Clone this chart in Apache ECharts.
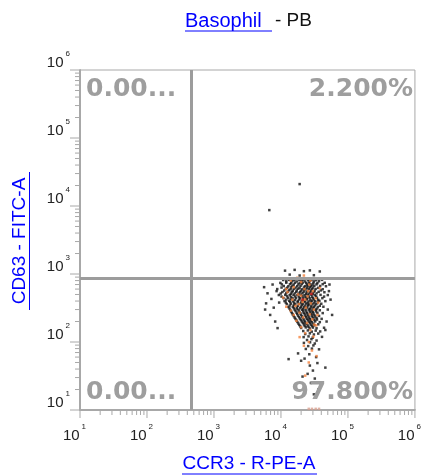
<!DOCTYPE html>
<html>
<head>
<meta charset="utf-8">
<script src="https://cdn.jsdelivr.net/npm/echarts@6/dist/echarts.min.js"></script>
<style>
  html, body { margin: 0; padding: 0; background: #fff; }
  #chart { width: 424px; height: 475px; }
</style>
</head>
<body>
<div id="chart"></div>
<script>
// decade ticks of both log axes
var decadeTicks = [10, 100, 1000, 10000, 100000, 1000000];
var minorTicks = [20, 30, 40, 50, 60, 70, 80, 90,
    200, 300, 400, 500, 600, 700, 800, 900,
    2000, 3000, 4000, 5000, 6000, 7000, 8000, 9000,
    20000, 30000, 40000, 50000, 60000, 70000, 80000, 90000,
    200000, 300000, 400000, 500000, 600000, 700000, 800000, 900000];

// quadrant gates (CCR3, CD63)
var gateX = 454;
var gateY = 870;
var quadrantLabels = ['0.00...', '2.200%', '0.00...', '97.800%'];

// events [CCR3, CD63]
var blackEvents = [
    // above the gate
    [11500, 1120], [16000, 1150], [22000, 1100], [27000, 1130], [38000, 1090], [19000, 950], [31000, 960], [13500, 980],
    // core
    [10800, 816], [13200, 820], [15800, 810], [18800, 816], [21500, 825], [25500, 812], [28500, 818], [33500, 810], [41000, 820],
    [9800, 740], [12000, 745], [14200, 735], [16200, 742], [19000, 738], [21200, 748], [23800, 736], [26200, 744], [30500, 740], [35000, 735], [45000, 742],
    [11000, 666], [12900, 660], [14800, 672], [17500, 664], [19600, 670], [22800, 662], [25000, 668], [28200, 660], [31500, 672], [38500, 666], [47000, 660],
    [8800, 600], [11800, 605], [13900, 596], [15600, 602], [18000, 608], [20800, 595], [23200, 600], [26000, 606], [29000, 598], [33000, 603], [42000, 597],
    [10500, 543], [12600, 548], [14500, 538], [16900, 545], [19200, 540], [21800, 550], [24200, 536], [27500, 544], [30800, 541], [36500, 547], [44500, 539],
    [9300, 491], [11600, 495], [13500, 487], [15400, 493], [17600, 489], [20000, 497], [22500, 486], [25200, 492], [28500, 495], [32000, 488], [39000, 493], [50000, 490],
    [10900, 442], [12800, 446], [14900, 438], [16800, 444], [19300, 440], [21600, 448], [24000, 436], [26800, 443], [30000, 439], [34500, 445], [41500, 441],
    [11300, 400], [13300, 404], [15200, 396], [17900, 402], [20500, 398], [23000, 406], [25800, 395], [29000, 401], [32500, 397], [37500, 403], [46000, 399],
    [12200, 362], [14100, 366], [16300, 358], [18600, 364], [21100, 360], [23700, 367], [26500, 357], [29500, 363], [33800, 359], [40000, 365],
    [12900, 327], [15000, 331], [17200, 323], [19800, 329], [22200, 325], [24900, 332], [27800, 322], [31000, 328], [35500, 324], [43000, 330],
    [13800, 296], [16000, 300], [18300, 292], [20800, 298], [23300, 294], [26000, 301], [29200, 291], [32800, 297], [38000, 293],
    [14600, 267], [17100, 270], [19500, 264], [21900, 269], [24600, 265], [27500, 271], [30500, 263], [35000, 268], [42000, 266],
    [15500, 241], [18000, 244], [20600, 238], [23200, 243], [25800, 239], [28800, 245], [32500, 237], [37000, 242],
    [16500, 218], [19200, 221], [21800, 215], [24400, 220], [27200, 216], [30500, 222], [34500, 214], [40500, 219],
    [17600, 197], [20500, 200], [23000, 194], [26000, 199], [29000, 195], [32500, 201], [38000, 196],
    [18800, 178], [22000, 181], [25000, 175], [28000, 180], [31500, 176], [36000, 182],
    [20000, 161], [23500, 164], [26800, 158], [30000, 163], [34000, 159], [44000, 162],
    [21500, 145], [25200, 148], [28800, 142], [33000, 147], [38500, 143],
    [23000, 131], [27000, 134], [31000, 129], [36000, 133],
    [21800, 118], [25800, 121], [29800, 116], [41000, 119],
    [24500, 107], [28500, 110], [34000, 105],
    [22000, 97], [27200, 99], [32000, 95],
    [25500, 87], [30500, 89],
    [23500, 79], [29000, 80], [37000, 78],
    // core, in-between rows
    [12000, 780], [14600, 785], [17200, 775], [20200, 782], [23000, 777], [27000, 786], [31000, 779], [37000, 783],
    [10300, 703], [13600, 708], [15500, 699], [18200, 705], [20500, 710], [24500, 700], [27300, 706], [29500, 698], [34000, 704], [42000, 709],
    [10200, 632], [12400, 628], [14200, 636], [16500, 630], [19000, 625], [22000, 634], [24500, 629], [27200, 637], [30200, 631], [36000, 626],
    [11200, 571], [13200, 575], [15000, 567], [17200, 573], [19800, 569], [22400, 577], [25000, 566], [28000, 572], [31800, 568], [39500, 574],
    [9900, 516], [12000, 520], [14000, 512], [16000, 518], [18400, 514], [21000, 521], [23600, 511], [26500, 517], [29800, 513], [34000, 519],
    [10200, 466], [12300, 470], [14200, 462], [16200, 468], [18600, 464], [20800, 471], [23400, 461], [26000, 467], [29200, 463], [33500, 469], [44000, 465],
    [12000, 420], [14000, 424], [16200, 416], [18800, 422], [21200, 418], [24500, 425], [27500, 415], [31000, 421], [36000, 417],
    [11800, 381], [13700, 385], [15800, 377], [17700, 383], [20000, 379], [22500, 386], [25000, 376], [28000, 382], [31500, 378], [35500, 384],
    [13500, 344], [15600, 348], [17800, 340], [20400, 346], [22800, 342], [25500, 349], [28500, 339], [32000, 345], [38000, 341],
    [13400, 311], [15500, 315], [17600, 307], [19400, 313], [21500, 309], [24000, 316], [27000, 306], [30000, 312], [34000, 308],
    [14200, 281], [16500, 285], [18900, 278], [21400, 283], [24000, 279], [26800, 286], [30000, 277], [33500, 282],
    [15000, 254], [17500, 258], [20000, 251], [22600, 256], [25200, 252], [28200, 259], [31500, 250],
    [16000, 229], [18600, 232], [21200, 226], [23800, 231], [26500, 227], [29600, 233], [34000, 225],
    [17100, 207], [19800, 210], [22500, 204], [25200, 209], [28000, 205], [31500, 211],
    [18200, 187], [21200, 190], [24000, 185], [27000, 189], [30500, 186],
    [19500, 169], [22600, 172], [25800, 167], [29000, 171],
    // lower tail
    [18000, 68], [26500, 66], [33500, 60], [13000, 56], [20000, 53], [22500, 57], [35000, 49], [27000, 45],
    [46000, 42], [30000, 38], [25000, 34], [32000, 29], [28000, 25], [21000, 31], [36000, 20], [31000, 17],
    // left and right stragglers
    [5600, 640], [6300, 520], [7200, 430], [6000, 370], [7800, 320], [8600, 560], [6900, 250], [8200, 200],
    [9400, 380], [5800, 300], [8900, 160], [7500, 700],
    [52000, 560], [55000, 420], [50000, 300], [58000, 250], [48000, 200], [53000, 700], [46000, 150]
];

var orangeEvents = [
    [14000, 800], [20000, 760], [26500, 700], [15500, 640], [22500, 600], [30000, 560], [12500, 540], [18000, 500],
    [25000, 470], [33000, 440], [14800, 420], [21000, 390], [28000, 370], [16500, 340], [23500, 320], [31000, 300],
    [14000, 290], [19000, 270], [27000, 255], [21500, 230], [29500, 215], [17000, 205], [24500, 190], [33500, 175],
    [20000, 165], [27500, 150], [23000, 135], [30500, 120], [19000, 118], [26000, 100], [22000, 88], [29000, 75],
    [34000, 62], [12000, 600], [10800, 450], [12000, 330], [38000, 620], [36000, 380], [17500, 880], [22000, 950],
    [27500, 800], [35000, 250], [20000, 480], [23000, 420], [18500, 360], [25500, 560], [15500, 250], [31500, 180],
    [26000, 50], [23000, 32]
];

var redEvents = [[28500, 510], [21000, 420]];

var floorEvents = [[26000, 10.4], [29000, 10.4], [33000, 10.4], [37000, 10.4]];

var outlierEvents = [[19000, 21000], [6700, 8700]];

var fontName = '"Liberation Sans", Arial, sans-serif';
var linkBlue = '#0000ff';
var axisGray = '#a8a8a8';

var chart = echarts.init(document.getElementById('chart'));

function powerLabel(v) {
    return '{b|10}{s|' + Math.round(Math.log10(v)) + '}';
}

var labelRich = {
    b: { fontSize: 15, fontFamily: fontName, color: '#222', padding: [5, 0, 0, 0] },
    s: { fontSize: 8, fontFamily: fontName, color: '#222', verticalAlign: 'top', padding: [0, 0, 0, 2] }
};

function mainAxis(pos, labelOpts) {
    return {
        type: 'log',
        logBase: 10,
        min: 10,
        max: 1000000,
        position: pos,
        axisLine: { show: true, onZero: false, lineStyle: { color: axisGray, width: 2 } },
        axisTick: { show: false },
        axisLabel: Object.assign({
            customValues: decadeTicks,
            formatter: powerLabel,
            rich: labelRich
        }, labelOpts),
        splitLine: { show: false }
    };
}

function scatter(name, data, color) {
    return {
        name: name,
        type: 'scatter',
        symbol: 'rect',
        symbolSize: 2.5,
        itemStyle: { color: color },
        data: data
    };
}

// tick marks outside the axes, placed through the axis scales
function tickSeries(values, isX, len) {
    return {
        type: 'custom',
        clip: false,
        silent: true,
        z: 1,
        data: values.map(function (v) { return isX ? [v, 10] : [10, v]; }),
        renderItem: function (params, api) {
            var p = api.coord([api.value(0), api.value(1)]);
            var shape = isX
                ? { x1: p[0], y1: p[1] + 1, x2: p[0], y2: p[1] + 1 + len }
                : { x1: p[0] - 1, y1: p[1], x2: p[0] - 1 - len, y2: p[1] };
            return { type: 'line', shape: shape, style: { stroke: axisGray, lineWidth: 1 } };
        }
    };
}

var series = [
    scatter('black', blackEvents, '#111111'),
    scatter('orange', orangeEvents, '#f5823c'),
    scatter('red', redEvents, '#e0201f'),
    scatter('floor', floorEvents, '#d8a090'),
    scatter('outliers', outlierEvents, '#111111'),
    tickSeries(minorTicks, true, 4),
    tickSeries(minorTicks, false, 4),
    tickSeries(decadeTicks, true, 7),
    tickSeries(decadeTicks, false, 9)
];

// quadrant gate lines
series[0].markLine = {
    silent: true,
    symbol: 'none',
    animation: false,
    label: { show: false },
    lineStyle: { color: '#9c9c9c', width: 3, type: 'solid' },
    data: [{ xAxis: gateX }, { yAxis: gateY }]
};

var qFont = 'bold 25px "DejaVu Sans", sans-serif';
var qColor = '#9e9e9e';

var option = {
    animation: false,
    grid: {
        left: 80, right: 6, top: 70, bottom: 65,
        show: true, borderColor: axisGray, borderWidth: 1
    },
    xAxis: mainAxis('bottom', { margin: 13, padding: [0, 11, 0, 0] }),
    yAxis: mainAxis('left', { margin: 10, verticalAlign: 'bottom' }),
    series: series,
    graphic: [
        { type: 'text', x: 86, y: 89, z: 50, style: { text: quadrantLabels[0], font: qFont, fill: qColor, align: 'left', verticalAlign: 'middle' } },
        { type: 'text', x: 413, y: 89, z: 50, style: { text: quadrantLabels[1], font: qFont, fill: qColor, align: 'right', verticalAlign: 'middle' } },
        { type: 'text', x: 86, y: 392, z: 50, style: { text: quadrantLabels[2], font: qFont, fill: qColor, align: 'left', verticalAlign: 'middle' } },
        { type: 'text', x: 413, y: 392, z: 50, style: { text: quadrantLabels[3], font: qFont, fill: qColor, align: 'right', verticalAlign: 'middle' } },

        // title
        { type: 'text', x: 185, y: 21, style: { text: 'Basophil ', font: '20px ' + fontName, fill: linkBlue, align: 'left', verticalAlign: 'middle' } },
        { type: 'line', shape: { x1: 185, y1: 31, x2: 272, y2: 31 }, style: { stroke: linkBlue, lineWidth: 1 } },
        { type: 'text', x: 275, y: 21, style: { text: '- PB', font: '19px ' + fontName, fill: '#111', align: 'left', verticalAlign: 'middle' } },

        // x axis name
        { type: 'text', x: 249, y: 464, style: { text: 'CCR3 - R-PE-A', font: '19px ' + fontName, fill: linkBlue, align: 'center', verticalAlign: 'middle' } },
        { type: 'line', shape: { x1: 182, y1: 474, x2: 317, y2: 474 }, style: { stroke: linkBlue, lineWidth: 1 } },

        // y axis name
        { type: 'text', x: 20, y: 241, rotation: Math.PI / 2, style: { text: 'CD63 - FITC-A', font: '19px ' + fontName, fill: linkBlue, align: 'center', verticalAlign: 'middle' } },
        { type: 'line', shape: { x1: 29.5, y1: 172, x2: 29.5, y2: 310 }, style: { stroke: linkBlue, lineWidth: 1 } }
    ]
};

chart.setOption(option);
</script>
</body>
</html>
